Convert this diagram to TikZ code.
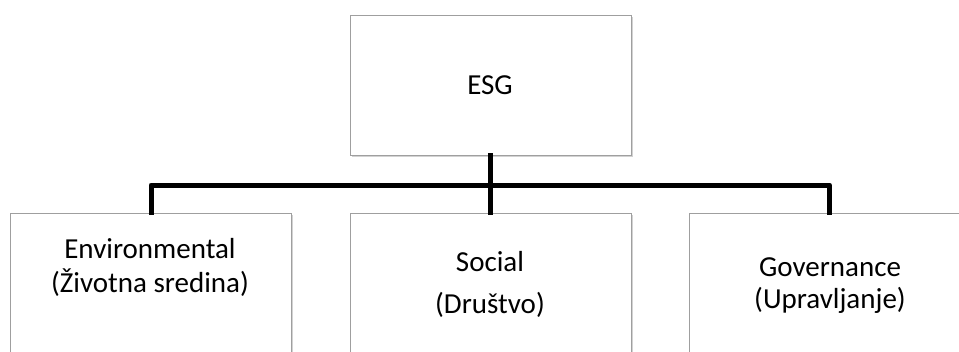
\documentclass[tikz,border=0pt]{standalone}
\usepackage{fontspec}
\setmainfont{Carlito}
\usetikzlibrary{shadows}
\begin{document}
\begin{tikzpicture}[x=1pt,y=-1pt,
  box/.style={draw=gray!75,line width=1pt,fill=white,minimum width=281pt,
    drop shadow={shadow xshift=1.5pt,shadow yshift=-1.5pt,opacity=0.35}},
  lbl/.style={font=\fontsize{29}{34}\selectfont,anchor=base,inner sep=0pt},
  conn/.style={line width=5pt,line join=round,line cap=rect}]
\fill[white] (0,0) rectangle (959,351);
\clip (0,0) rectangle (959,351);
\node[box,minimum height=140pt] (esg) at (490.5,85) {};
\node[box,minimum height=160pt] (env) at (151,293) {};
\node[box,minimum height=160pt] (soc) at (490.5,293) {};
\node[box,minimum height=160pt] (gov) at (829.5,293) {};
\node[lbl] (esgt) at (490,94) {ESG};
\node[lbl] (env1) at (150,258) {Environmental};
\node[lbl] (env2) at (150,292) {(Životna sredina)};
\node[lbl] (soc1) at (490,271) {Social};
\node[lbl] (soc2) at (490,313) {(Društvo)};
\node[lbl] (gov1) at (830,276.5) {Governance};
\node[lbl] (gov2) at (830,308) {(Upravljanje)};
\coordinate (hub) at (490.5,185);
\draw[conn] (esg.south) -- (hub);
\draw[conn] (hub) -| (env.north);
\draw[conn] (hub) -| (gov.north);
\draw[conn] (hub) -- (soc.north);
\end{tikzpicture}
\end{document}
